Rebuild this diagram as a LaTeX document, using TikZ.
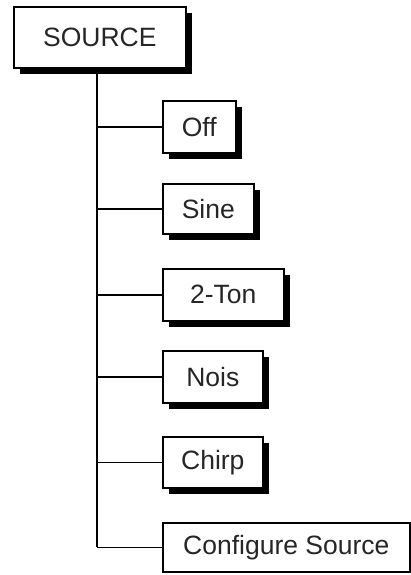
\documentclass[tikz,border=0pt]{standalone}
\usepackage{fontspec}
\setmainfont{Liberation Sans}
\usetikzlibrary{shadows}
\begin{document}
\begin{tikzpicture}[x=1pt,y=-1pt,
  menubox/.style={draw=black, line width=1.6pt, fill=white, inner sep=0pt, anchor=north west,
    font=\fontsize{26.5}{30}\selectfont, text=black!85},
  shadowed/.style={drop shadow={shadow xshift=6pt, shadow yshift=-6pt, fill=black, opacity=1}},
  link/.style={line width=1.5pt, draw=black}]
\useasboundingbox (0,0) rectangle (411,575);
\node[menubox, shadowed, minimum width=172pt, minimum height=61pt] (src) at (13,6) {SOURCE};
\node[menubox, shadowed, minimum width=73pt, minimum height=52pt] (off) at (162,100) {Off};
\node[menubox, shadowed, minimum width=91pt, minimum height=50pt] (sine) at (162,183) {Sine};
\node[menubox, shadowed, minimum width=121pt, minimum height=52pt] (ton) at (162,268) {2-Ton};
\node[menubox, shadowed, minimum width=100pt, minimum height=52pt] (nois) at (162,350) {Nois};
\node[menubox, shadowed, minimum width=100pt, minimum height=51pt] (chirp) at (162,436) {Chirp};
\node[menubox, minimum width=247pt, minimum height=49pt] (conf) at (162,522) {Configure Source};
\coordinate (top) at (97,67);
\coordinate (bot) at (97,546.5);
\draw[link] (src.south -| top) -- (bot |- conf.west);
\foreach \n in {off,sine,ton,nois,chirp,conf}{
  \draw[link] (top |- \n.west) -- (\n.west);
}
\end{tikzpicture}
\end{document}
